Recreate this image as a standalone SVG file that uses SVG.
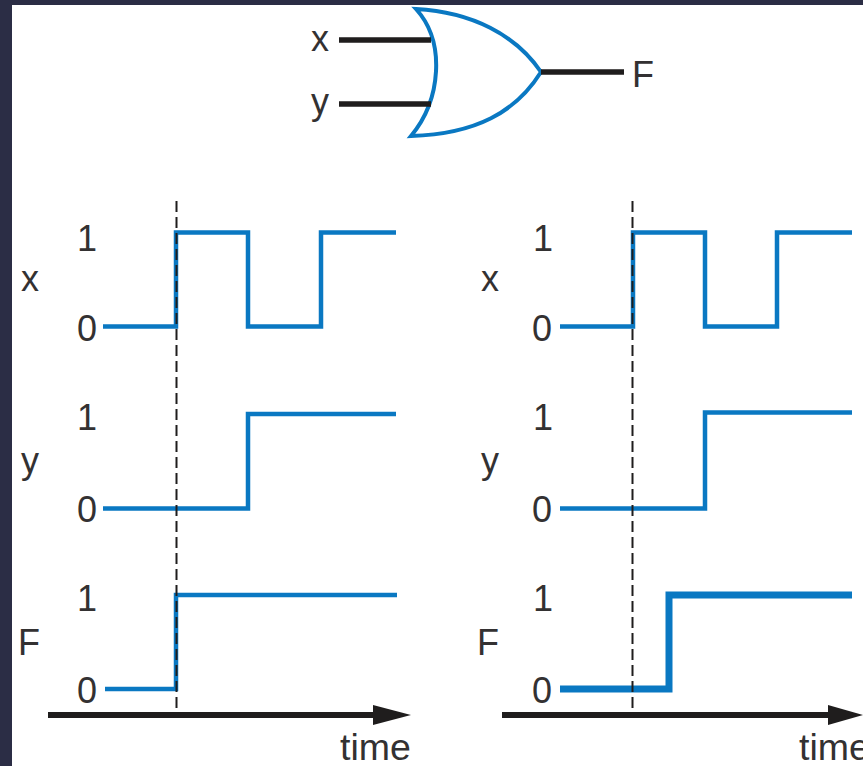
<svg xmlns="http://www.w3.org/2000/svg" width="863" height="766" viewBox="0 0 863 766">
<style>
text{font-family:"Liberation Sans",Arial,sans-serif;font-size:36px;fill:#333132}
.t{font-size:37.500px}
.s{fill:none;stroke:#0a78c2;stroke-width:4.500}
.b{fill:none;stroke:#0a78c2;stroke-width:7}
.w{fill:none;stroke:#1f1d1d;stroke-width:5.500}
.a{fill:none;stroke:#1f1d1d;stroke-width:6}
.d{fill:none;stroke:#1f1d1d;stroke-width:2;stroke-dasharray:11 5}
.h{fill:#1f1d1d}
</style>
<rect width="863" height="766" fill="#2b2d45"/>
<rect x="12" y="5" width="851" height="761" fill="#fff"/>
<g id="gate">
<path d="M416 9C472 12 516 35 541 72C516 112 476 134 411 136C441 100 446 42 416 9Z" fill="#fff" stroke="#0a78c2" stroke-width="4"/>
</g>
<g id="connectors">
<path class="w" d="M339 40H431M339 104H431M541 72H624"/>
<path class="s" d="M103 326.500H176V232.500H248V326.500H321V232.500H396"/>
<path class="s" d="M103 508.500H248V414H396"/>
<path class="s" d="M105 689H176V595H397"/>
<path class="s" d="M560 326.500H633V232.500H705V326.500H777V232.500H852"/>
<path class="s" d="M560 508.500H705V412.500H852"/>
<path class="b" d="M560 689H669V595H852"/>
<path class="d" d="M176.500 201V714M632.500 201V714"/>
<path class="a" d="M48 715H375"/>
<path class="h" d="M373 705L411 715L373 725Z"/>
<path class="a" d="M502 715H830"/>
<path class="h" d="M828 705L863 715L828 725Z"/>
</g>
<g id="labels">
<text x="311" y="51">x</text>
<text x="311" y="114">y</text>
<text x="632" y="87">F</text>
<text x="21" y="291">x</text>
<text x="21" y="473">y</text>
<text x="18" y="655">F</text>
<text x="481" y="291">x</text>
<text x="481" y="473">y</text>
<text x="477" y="655">F</text>
<text x="77" y="251">1</text>
<text x="77" y="341">0</text>
<text x="77" y="430">1</text>
<text x="77" y="522">0</text>
<text x="77" y="611">1</text>
<text x="77" y="703">0</text>
<text x="533" y="251">1</text>
<text x="532" y="341">0</text>
<text x="533" y="430">1</text>
<text x="532" y="522">0</text>
<text x="533" y="611">1</text>
<text x="532" y="703">0</text>
<text class="t" x="340" y="760">time</text>
<text class="t" x="799" y="760">time</text>
</g>
</svg>
